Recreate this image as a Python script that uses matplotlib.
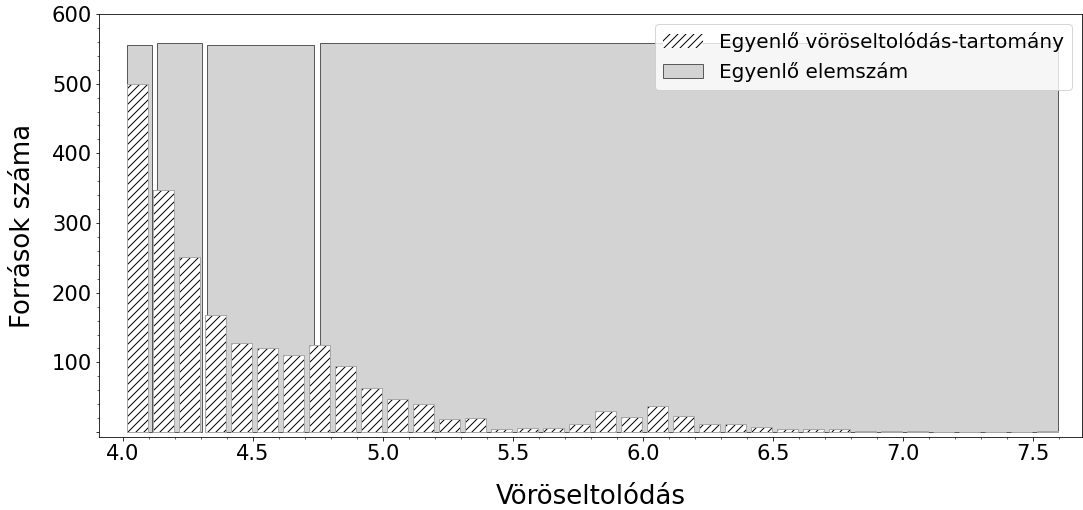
import numpy as np
import matplotlib
matplotlib.use("Agg")
import matplotlib.pyplot as plt
from matplotlib.ticker import FixedLocator, MultipleLocator, FuncFormatter
from matplotlib.patches import Patch

# Redshift histogram: equal-width bins (0.1) and equal-count bins
z_min, z_max = 4.005, 7.605
equal_width_edges = np.round(np.linspace(z_min, z_max, 37), 3)
equal_width_counts = [500, 347, 252, 168, 128, 120, 110, 125, 95, 63, 47, 40,
                      19, 20, 5, 6, 6, 11, 31, 22, 37, 23, 11, 11, 7, 5, 5, 5,
                      2, 2, 2, 0, 0, 0, 0, 2]
equal_count_edges = [4.005, 4.12, 4.315, 4.746, 7.605]
equal_count_counts = [556, 558, 556, 558]

label_width = "Egyenlő vöröseltolódás-tartomány"
label_count = "Egyenlő elemszám"
xlabel = "Vöröseltolódás"
ylabel = "Források száma"

gap = 0.02

fig = plt.figure(figsize=(1083 / 72, 510 / 72), dpi=72)
ax = fig.add_axes([99 / 1083, 1 - 437 / 510, (1082 - 99) / 1083, (437 - 14) / 510])

# Equal-count bins (grey background)
ec = np.array(equal_count_edges)
ax.bar(ec[:-1] + gap / 2, equal_count_counts, width=np.diff(ec) - gap, align="edge",
       color="#d3d3d3", edgecolor="#5a5a5a", linewidth=1.0, zorder=1)

# Equal-width bins (hatched)
ew = np.array(equal_width_edges)
ax.bar(ew[:-1] + gap / 2, equal_width_counts, width=np.diff(ew) - gap, align="edge",
       color="white", edgecolor="black", linewidth=0, hatch="///", zorder=2)
ax.bar(ew[:-1] + gap / 2, equal_width_counts, width=np.diff(ew) - gap, align="edge",
       fill=False, edgecolor="#a8a8a8", linewidth=1.0, zorder=3)

ax.set_xlim(3.908, 7.688)
ax.set_ylim(-7, 600)

ax.xaxis.set_major_locator(MultipleLocator(0.5))
ax.xaxis.set_minor_locator(MultipleLocator(0.1))
ax.yaxis.set_major_locator(FixedLocator([0, 100, 200, 300, 400, 500, 600]))
ax.yaxis.set_minor_locator(MultipleLocator(20))
ax.yaxis.set_major_formatter(FuncFormatter(lambda v, p: "" if v == 0 else f"{v:.0f}"))

ax.tick_params(axis="both", which="major", labelsize=21)
ax.set_xlabel(xlabel, fontsize=26, labelpad=20)
ax.set_ylabel(ylabel, fontsize=26, labelpad=16)

handles = [Patch(facecolor="white", edgecolor="black", linewidth=0, hatch="///"),
           Patch(facecolor="#d3d3d3", edgecolor="#5a5a5a", linewidth=1.0)]
ax.legend(handles, [label_width, label_count], loc="upper right", fontsize=20)

fig.savefig("out.png", dpi=72)
